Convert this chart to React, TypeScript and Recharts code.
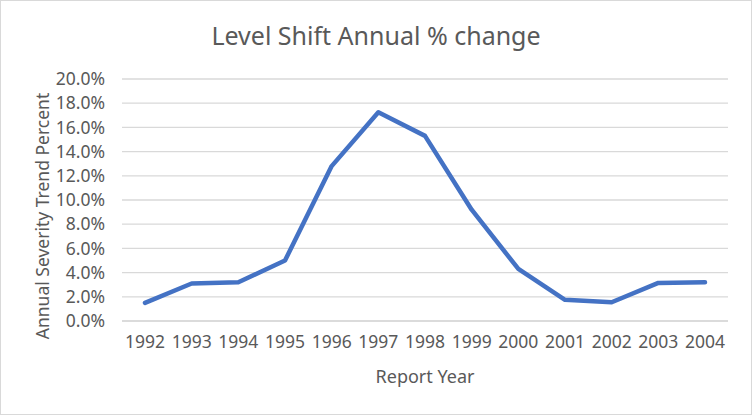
import { CartesianGrid, Label, Line, LineChart, XAxis, YAxis } from 'recharts'

const years = ['1992', '1993', '1994', '1995', '1996', '1997', '1998', '1999', '2000', '2001', '2002', '2003', '2004']
const trend = [1.5, 3.1, 3.2, 5.0, 12.8, 17.25, 15.3, 9.2, 4.3, 1.75, 1.55, 3.15, 3.2]
const yTicks = [0, 2, 4, 6, 8, 10, 12, 14, 16, 18, 20]

const data = years.map((year, i) => ({ year, value: trend[i] }))

const font = '"Noto Sans", sans-serif'
const grey = '#595959'

export default function App() {
  return (
    <div
      style={{
        position: 'fixed',
        top: 0,
        left: 0,
        width: 750,
        height: 413,
        border: '1px solid #d9d9d9',
        background: '#fff',
        fontFamily: font,
      }}
    >
      <div
        style={{
          position: 'absolute',
          top: 17,
          width: '100%',
          textAlign: 'center',
          fontSize: 25,
          color: grey,
        }}
      >
        Level Shift Annual % change
      </div>
      <LineChart
        width={750}
        height={413}
        data={data}
        margin={{ top: 78, right: 23, left: 0, bottom: 0 }}
      >
        <CartesianGrid vertical={false} stroke="#d9d9d9" strokeWidth={1.3} />
        <XAxis
          dataKey="year"
          height={93}
          padding={{ left: 23, right: 23 }}
          tickLine={false}
          axisLine={{ stroke: '#d9d9d9', strokeWidth: 1.3 }}
          tickSize={0}
          tickMargin={15}
          tick={{ fill: grey, fontSize: 17.5, fontFamily: font }}
          interval={0}
        >
          <Label
            value="Report Year"
            position="insideBottom"
            offset={31}
            style={{ fill: grey, fontSize: 18, fontFamily: font }}
          />
        </XAxis>
        <YAxis
          width={121}
          domain={[0, 20]}
          ticks={yTicks}
          interval={0}
          tickLine={false}
          axisLine={false}
          tickSize={0}
          tickMargin={17}
          tickFormatter={(v) => `${v.toFixed(1)}%`}
          tick={{ fill: grey, fontSize: 17.5, fontFamily: font }}
        />
        <Line
          type="linear"
          dataKey="value"
          stroke="#4472c4"
          strokeWidth={4.5}
          strokeLinejoin="round"
          strokeLinecap="round"
          dot={false}
          isAnimationActive={false}
        />
      </LineChart>
      {/* y axis title sits a bit below the plot centre, as in the original */}
      <div
        style={{
          position: 'absolute',
          left: 41,
          top: 215,
          transform: 'translate(-50%, -50%) rotate(-90deg)',
          whiteSpace: 'nowrap',
          fontSize: 17.5,
          color: grey,
        }}
      >
        Annual Severity Trend Percent
      </div>
    </div>
  )
}
